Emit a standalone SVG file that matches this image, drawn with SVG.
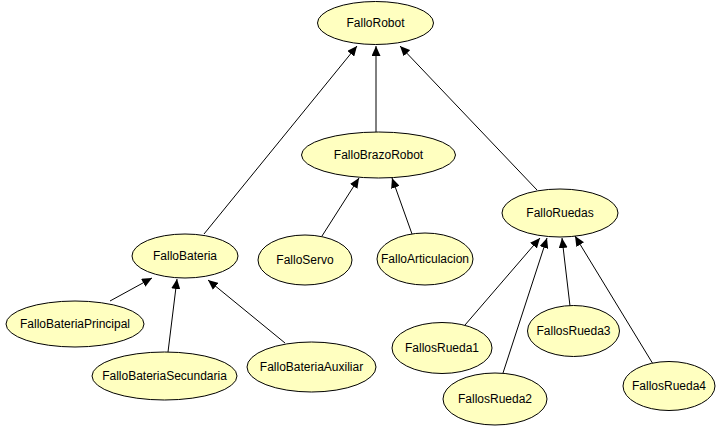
<svg xmlns="http://www.w3.org/2000/svg" width="716" height="427" viewBox="0 0 716 427">
<style>
.n ellipse{fill:#ffffc0;stroke:#000;stroke-width:1}
.n text{font-family:"Liberation Sans",Arial,sans-serif;font-size:12px;fill:#000;text-anchor:middle;dominant-baseline:central}
.e line{stroke:#000;stroke-width:1;marker-end:url(#a)}
</style>
<defs>
<marker id="a" markerUnits="userSpaceOnUse" markerWidth="11" markerHeight="9" refX="10" refY="4.5" orient="auto">
<path d="M0,0 L10,4.5 L0,9 z" fill="#000"/>
</marker>
</defs>
<rect width="716" height="427" fill="#fff"/>
<g id="edges" class="e">
<line x1="204" y1="234" x2="357" y2="46"/>
<line x1="376" y1="132" x2="376" y2="46"/>
<line x1="537" y1="190" x2="400" y2="46"/>
<line x1="322" y1="236" x2="359" y2="178"/>
<line x1="412" y1="234" x2="392" y2="178"/>
<line x1="110" y1="301" x2="152" y2="278"/>
<line x1="168" y1="352" x2="177" y2="279"/>
<line x1="285" y1="343" x2="208" y2="280"/>
<line x1="465" y1="325" x2="540" y2="238"/>
<line x1="503" y1="373" x2="547" y2="238"/>
<line x1="570" y1="306" x2="562" y2="238"/>
<line x1="653" y1="364" x2="575" y2="236"/>
</g>
<g id="FalloRobot" class="n"><ellipse cx="375.5" cy="23" rx="58" ry="21.5"/><text x="375.5" y="23">FalloRobot</text></g>
<g id="FalloBrazoRobot" class="n"><ellipse cx="378.5" cy="155" rx="77" ry="23"/><text x="378.5" y="155">FalloBrazoRobot</text></g>
<g id="FalloBateria" class="n"><ellipse cx="185" cy="256" rx="53" ry="22"/><text x="185" y="256">FalloBateria</text></g>
<g id="FalloRuedas" class="n"><ellipse cx="560" cy="213" rx="58" ry="24"/><text x="560" y="213">FalloRuedas</text></g>
<g id="FalloServo" class="n"><ellipse cx="305" cy="260" rx="47" ry="25"/><text x="305" y="260">FalloServo</text></g>
<g id="FalloArticulacion" class="n"><ellipse cx="425" cy="259" rx="48" ry="26"/><text x="425" y="259">FalloArticulacion</text></g>
<g id="FalloBateriaPrincipal" class="n"><ellipse cx="75" cy="324" rx="69" ry="23"/><text x="75" y="324">FalloBateriaPrincipal</text></g>
<g id="FalloBateriaSecundaria" class="n"><ellipse cx="164.5" cy="376" rx="72.5" ry="24"/><text x="164.5" y="376">FalloBateriaSecundaria</text></g>
<g id="FalloBateriaAuxiliar" class="n"><ellipse cx="311.5" cy="367" rx="64.5" ry="25"/><text x="311.5" y="367">FalloBateriaAuxiliar</text></g>
<g id="FallosRueda1" class="n"><ellipse cx="442" cy="348" rx="50" ry="25.5"/><text x="442" y="348">FallosRueda1</text></g>
<g id="FallosRueda2" class="n"><ellipse cx="495" cy="399" rx="52" ry="26"/><text x="495" y="399">FallosRueda2</text></g>
<g id="FallosRueda3" class="n"><ellipse cx="573.5" cy="331" rx="46" ry="25.5"/><text x="573.5" y="331">FallosRueda3</text></g>
<g id="FallosRueda4" class="n"><ellipse cx="669" cy="386" rx="46" ry="24.5"/><text x="669" y="386">FallosRueda4</text></g>
</svg>
